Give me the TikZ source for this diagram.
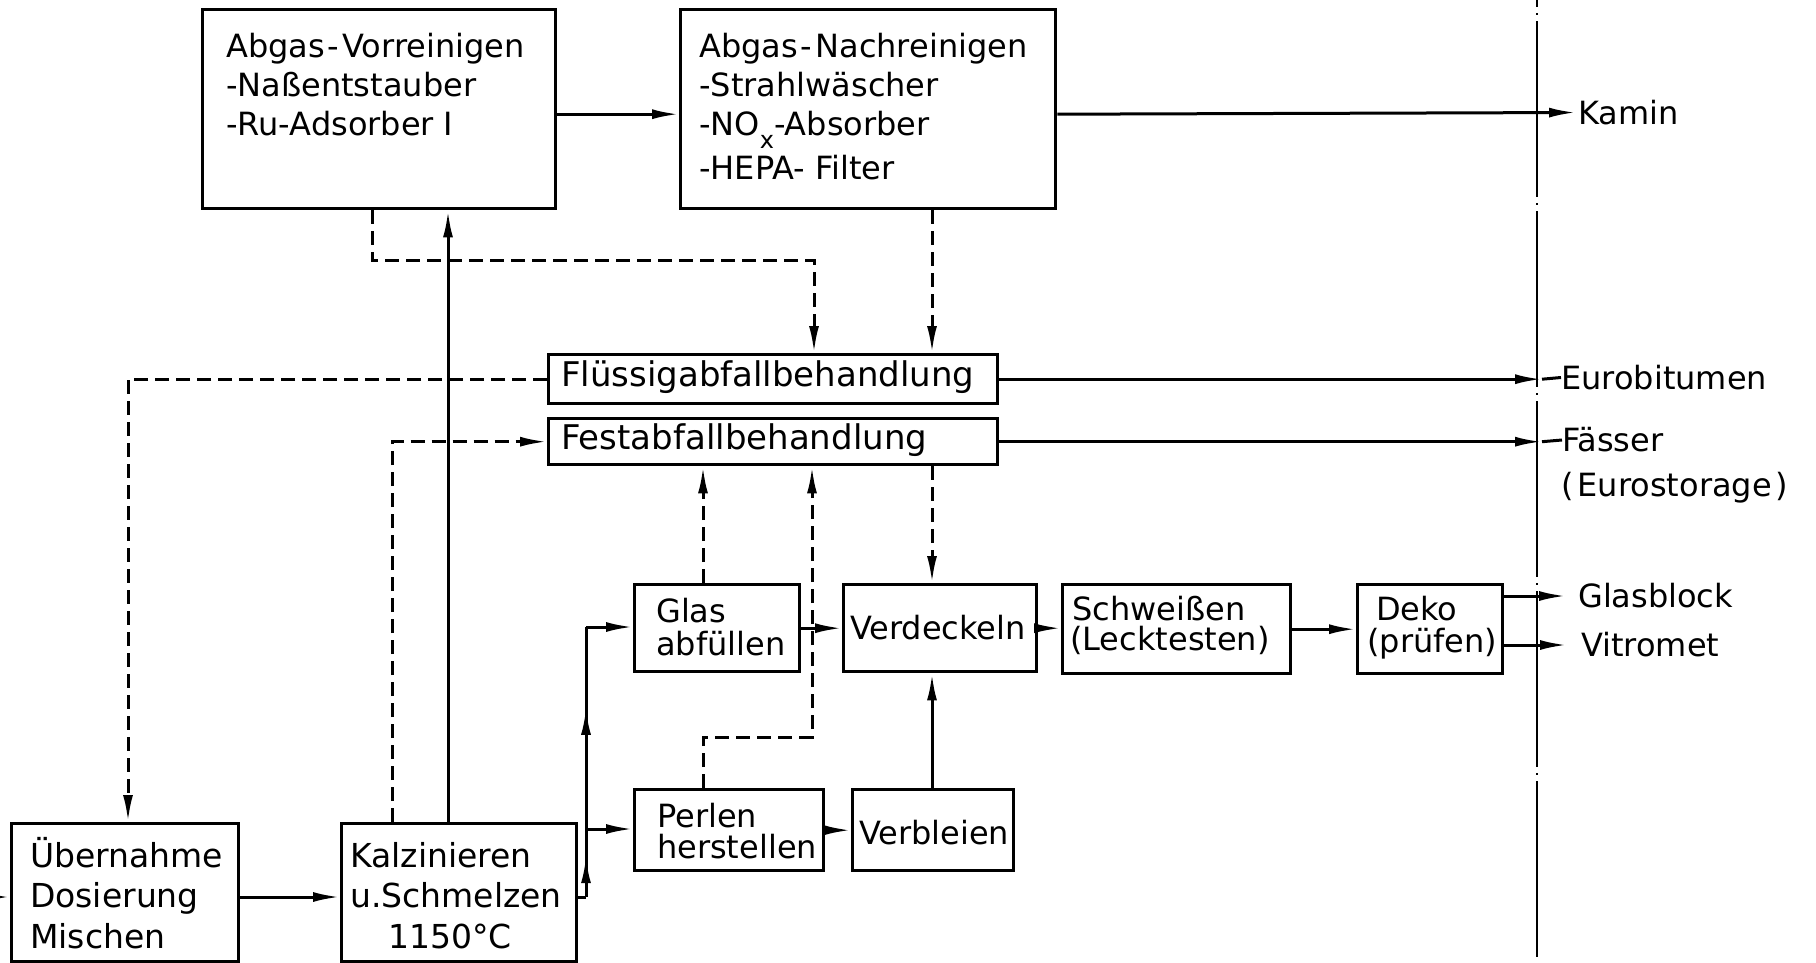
\documentclass[tikz,border=0pt]{standalone}
\usepackage{fontspec}
\setmainfont{DejaVu Sans}
\usetikzlibrary{arrows.meta,decorations.markings}
\newcommand{\fsz}[2]{\fontsize{#1}{#2}\selectfont}
\newcommand{\tallstrut}{\rule{0pt}{30pt}}
\begin{document}
\begin{tikzpicture}[x=1pt,y=-1pt,
  box/.style={draw, line width=3.4pt, inner sep=0pt, anchor=north west},
  txt/.style={font=\fsz{32}{39}, inner sep=0pt, align=left},
  con/.style={line width=3pt},
  tip/.style={-{Latex[length=27pt,width=10pt]}},
  arr/.style={con, tip},
  dsh/.style={dash pattern=on 14pt off 7pt},
  midarr/.style={con, decoration={markings, mark=at position 0.6 with {\arrow{Latex[length=27pt,width=10pt]}}}, postaction={decorate}},
  dashdot/.style={line width=2.2pt, dash pattern=on 176pt off 6pt on 2pt off 6pt, dash phase=169pt}
]
\useasboundingbox (0,0) rectangle (1816,962);

% ---------- boxes ----------
\node[box, minimum width=353pt, minimum height=199pt] (b1) at (201,8) {};
\node[box, minimum width=375pt, minimum height=199pt] (b2) at (679,8) {};
\node[box, minimum width=449pt, minimum height=49pt] (fl) at (547,353) {};
\node[box, minimum width=449pt, minimum height=46pt] (fe) at (547,417) {};
\node[box, minimum width=165pt, minimum height=87pt] (gl) at (633,583) {};
\node[box, minimum width=193pt, minimum height=87pt] (vd) at (842,583) {};
\node[box, minimum width=228pt, minimum height=89pt] (sw) at (1061,583) {};
\node[box, minimum width=145pt, minimum height=89pt] (dk) at (1356,583) {};
\node[box, minimum width=189pt, minimum height=81pt] (pe) at (633,788) {};
\node[box, minimum width=161pt, minimum height=81pt] (vb) at (851,788) {};
\node[box, minimum width=227pt, minimum height=138pt] (ub) at (10,822) {};
\node[box, minimum width=235pt, minimum height=138pt] (kz) at (340,822) {};

% ---------- box texts ----------
\node[txt, anchor=north west] (tb1) at (226,27) {\tallstrut Abgas\kern3pt-\kern3pt Vorreinigen\\-Naßentstauber\\-Ru-Adsorber\kern10pt I};
\node[txt, anchor=north west] (tb2) at (699,27) {\tallstrut Abgas\kern3pt-\kern3pt Nachreinigen\\-Strahlwäscher\\-NO\raisebox{-13pt}{\fsz{24}{24}x}-Absorber\\[5pt]-HEPA- Filter};
\node[txt, anchor=west, font=\fsz{34}{39}] (tfl) at (561,377.5) {Flüssigabfallbehandlung};
\node[txt, anchor=west, font=\fsz{34}{39}] (tfe) at (561,440) {Festabfallbehandlung};
\node[txt, anchor=north west, font=\fsz{32}{33}] (tgl) at (656,592) {\tallstrut Glas\\abfüllen};
\node[txt, anchor=west] (tvd) at (850,628) {Verdeckeln};
\node[txt, anchor=north west, font=\fsz{32}{30}] (tsw) at (1070,590) {\tallstrut\kern2pt Schweißen\\(Lecktesten)};
\node[txt, anchor=north west, font=\fsz{32}{32}] (tdk) at (1367,590) {\tallstrut\kern9pt Deko\\(prüfen)};
\node[txt, anchor=north west, font=\fsz{32}{31}] (tpe) at (657,797) {\tallstrut Perlen\\herstellen};
\node[txt, anchor=west] (tvb) at (859,833) {Verbleien};
\node[txt, anchor=north west, font=\fsz{33}{40.5}] (tub) at (30,837) {\tallstrut Übernahme\\Dosierung\\Mischen};
\node[txt, anchor=north west, font=\fsz{33}{40.5}] (tkz) at (350,837) {\tallstrut Kalzinieren\\u.Schmelzen\\\hspace*{38pt}1150°C};

% ---------- outlet texts ----------
\node[txt, anchor=west] (kam) at (1578,112.5) {Kamin};
\node[txt, anchor=west] (eb) at (1561,377.5) {Eurobitumen};
\node[txt, anchor=west] (fa) at (1562,440) {Fässer};
\node[txt, anchor=base west] (es) at (1561,496) {(\kern4pt Eurostorage\kern4pt)};
\node[txt, anchor=west] (gb) at (1578,596) {Glasblock};
\node[txt, anchor=west] (vm) at (1581,645) {Vitromet};

% ---------- reference coordinates ----------
\coordinate (dd0) at (1537,0);
\coordinate (dd1) at (1537,962);
\coordinate (tipx) at (1542,0);
\coordinate (xA) at (372,0);
\coordinate (xB) at (448,0);
\coordinate (xC) at (814,0);
\coordinate (xD) at (932,0);
\coordinate (xE) at (128,0);
\coordinate (xF) at (392,0);
\coordinate (xG) at (703,0);
\coordinate (xH) at (812,0);
\coordinate (in0) at (0,897);
\coordinate (j1) at (586,897);
\coordinate (j2) at (586,829);
\coordinate (j3) at (586,627);

% ---------- boundary line ----------
\draw[dashdot] (dd0) -- (dd1);

% ---------- gas path ----------
\draw[arr] ([yshift=-5pt]b1.east) -- ([yshift=-5pt]b1.east -| b2.west);
\draw[arr, shorten >=2pt] ([yshift=-5pt]b2.east) -- (kam.west);
\draw[arr] (kz.north -| xB) -- (b1.south -| xB);

% ---------- dashed waste flows ----------
\draw[con, dsh, tip] (b1.south -| xA) -- ++(0,50) -| (fl.north -| xC);
\draw[con, dsh, tip] (b2.south -| xD) -- (fl.north -| xD);
\draw[con, dsh, tip] (fl.west) -| (ub.north -| xE);
\draw[con, dsh, tip] (kz.north -| xF) |- (fe.west);
\draw[con, dsh, tip] (gl.north -| xG) -- (fe.south -| xG);
\draw[con, dsh, tip] (pe.north -| xG) -- ++(0,-51) -| (fe.south -| xH);
\draw[con, dsh, tip] (fe.south -| xD) -- (vd.north -| xD);

% ---------- outlets of waste treatment ----------
\draw[arr] (fl.east) -- (fl.east -| tipx);
\draw[con] (fl.east -| tipx) -- (eb.west);
\draw[arr] (fe.east) -- (fe.east -| tipx);
\draw[con] (fe.east -| tipx) -- (fa.west);

% ---------- main process ----------
\draw[arr] (in0) -- (ub.west |- in0);
\draw[arr] (ub.east |- in0) -- (kz.west |- in0);
\draw[con] (kz.east |- j1) -- (j1);
\draw[midarr] (j1) -- (j2);
\draw[arr] (j2) -- (pe.west |- j2);
\draw[midarr] (j2) -- (j3);
\draw[arr] (j3) -- (gl.west |- j3);
\draw[arr] (gl.east) -- (vd.west |- gl.east);
\draw[arr] (vd.east) -- (sw.west |- vd.east);
\draw[arr] (sw.east) -- (dk.west |- sw.east);
\draw[arr] (pe.east) -- (vb.west |- pe.east);
\draw[arr] (vb.north -| xD) -- (vd.south -| xD);
\draw[arr, shorten >=12pt] (dk.east |- gb.west) -- (gb.west);
\draw[arr, shorten >=14pt] (dk.east |- vm.west) -- (vm.west);
\end{tikzpicture}
\end{document}
